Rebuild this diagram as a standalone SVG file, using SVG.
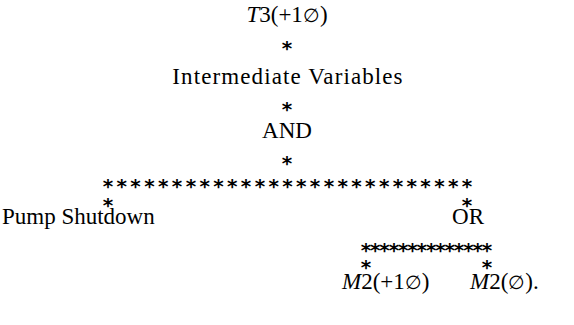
<svg xmlns="http://www.w3.org/2000/svg" width="574" height="325" viewBox="0 0 574 325">
  <style>
    .lbl { font-family: "Liberation Serif", "Times New Roman", serif; font-size: 23px; fill: #000; }
    .mid { text-anchor: middle; }
    .it { font-style: italic; }
    .nul { font-family: "DejaVu Serif", serif; font-size: 19px; }
    .star { font-family: "DejaVu Sans", sans-serif; font-weight: bold; font-size: 20px; fill: #000; text-anchor: middle; }
  </style>
  <rect width="574" height="325" fill="#fff"/>

  <!-- connectors: asterisk chains between nodes -->
  <g id="connectors">
    <text class="star" x="287" y="55">*</text>
    <text class="star" x="287" y="116">*</text>
    <text class="star" x="287" y="170">*</text>
    <text class="star" x="108 121.8 135.6 149.4 163.2 177.1 190.9 204.7 218.5 232.3 246.1 259.9 273.7 287.5 301.3 315.1 328.9 342.7 356.5 370.3 384.2 398 411.8 425.6 439.4 453.2 467" y="193">***************************</text>
    <text class="star" x="108" y="212">*</text>
    <text class="star" x="467" y="212">*</text>
    <text class="star" x="366 375.3 384.6 393.9 403.2 412.5 421.8 431.2 440.5 449.8 459.1 468.4 477.7 487" y="257">**************</text>
    <text class="star" x="366" y="274">*</text>
    <text class="star" x="487" y="274">*</text>
  </g>

  <g id="top-event">
    <text class="lbl mid" x="287" y="22"><tspan class="it">T</tspan>3(+1<tspan class="nul">∅</tspan>)</text>
  </g>
  <g id="intermediate-variables">
    <text class="lbl mid" x="288" y="84" font-size="24" letter-spacing="1.1">Intermediate Variables</text>
  </g>
  <g id="and-gate">
    <text class="lbl mid" x="287" y="138">AND</text>
  </g>
  <g id="pump-shutdown">
    <text class="lbl" x="2" y="224">Pump Shutdown</text>
  </g>
  <g id="or-gate">
    <text class="lbl mid" x="468" y="224">OR</text>
  </g>
  <g id="m2-plus">
    <text class="lbl" x="342" y="289"><tspan class="it">M</tspan>2(+1<tspan class="nul">∅</tspan>)</text>
  </g>
  <g id="m2-zero">
    <text class="lbl" x="470" y="289"><tspan class="it">M</tspan>2(<tspan class="nul">∅</tspan>).</text>
  </g>
</svg>
